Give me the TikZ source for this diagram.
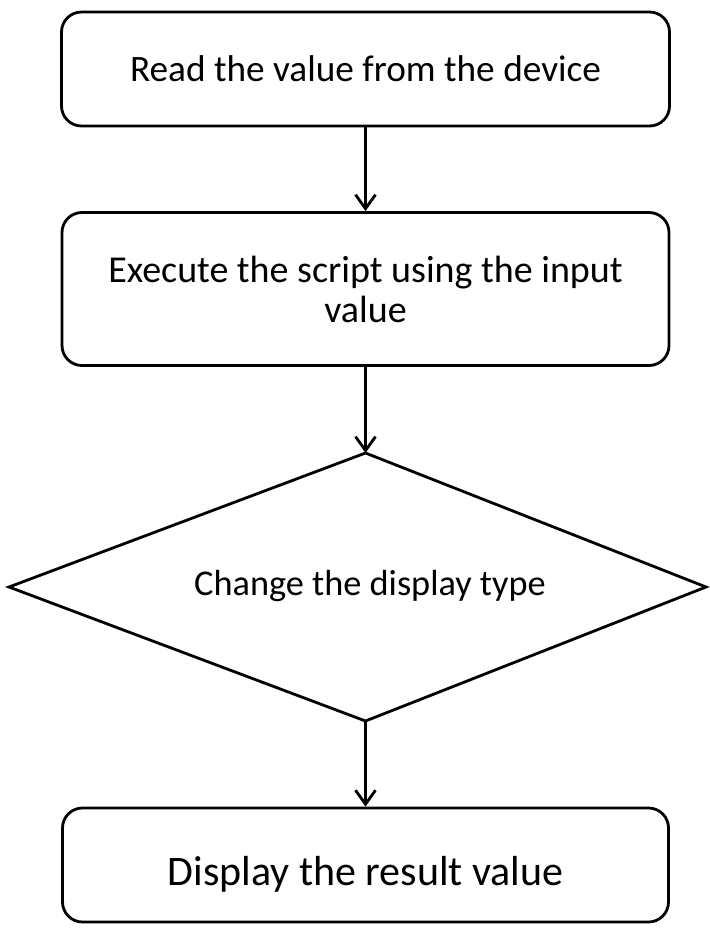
\documentclass[tikz,border=0pt]{standalone}
\usepackage{fontspec}
\setmainfont{Carlito}
\usetikzlibrary{arrows.meta}
\begin{document}
\begin{tikzpicture}[x=1pt,y=-1pt,
  flowbox/.style={draw=black,line width=2.8pt,rounded corners=20pt,rectangle,inner sep=0pt,align=center},
  decisionline/.style={draw=black,line width=2.8pt,line join=miter},
  flowarrow/.style={line width=3.2pt,-{Straight Barb[length=14pt,width=20pt,line width=2.8pt]}}]
\useasboundingbox (0,0) rectangle (709,936);
\node[flowbox,minimum width=608pt,minimum height=114pt,text height=25pt,text depth=0pt,font=\fontsize{37.3}{39}\selectfont] (read) at (365.5,69) {Read the value from the device};
\node[flowbox,minimum width=607pt,minimum height=153pt,font=\fontsize{38}{40}\selectfont] (exec) at (365.5,289) {Execute the script using the input\\value};
\coordinate (dtop) at (365.5,453);
\coordinate (dright) at (706,587);
\coordinate (dbot) at (365.5,721);
\coordinate (dleft) at (9,587);
\draw[decisionline] (dtop) -- (dright) -- (dbot) -- (dleft) -- cycle;
\node[anchor=base,inner sep=0pt,font=\fontsize{36.3}{40}\selectfont] (change) at (370,595) {Change the display type};
\node[flowbox,minimum width=606pt,minimum height=114pt,text height=40pt,text depth=0pt,font=\fontsize{42}{44}\selectfont] (disp) at (365.5,865) {Display the result value};
\draw[flowarrow] (read.south) -- (exec.north);
\draw[flowarrow] (exec.south) -- (dtop);
\draw[flowarrow] (dbot) -- (disp.north);
\end{tikzpicture}
\end{document}
